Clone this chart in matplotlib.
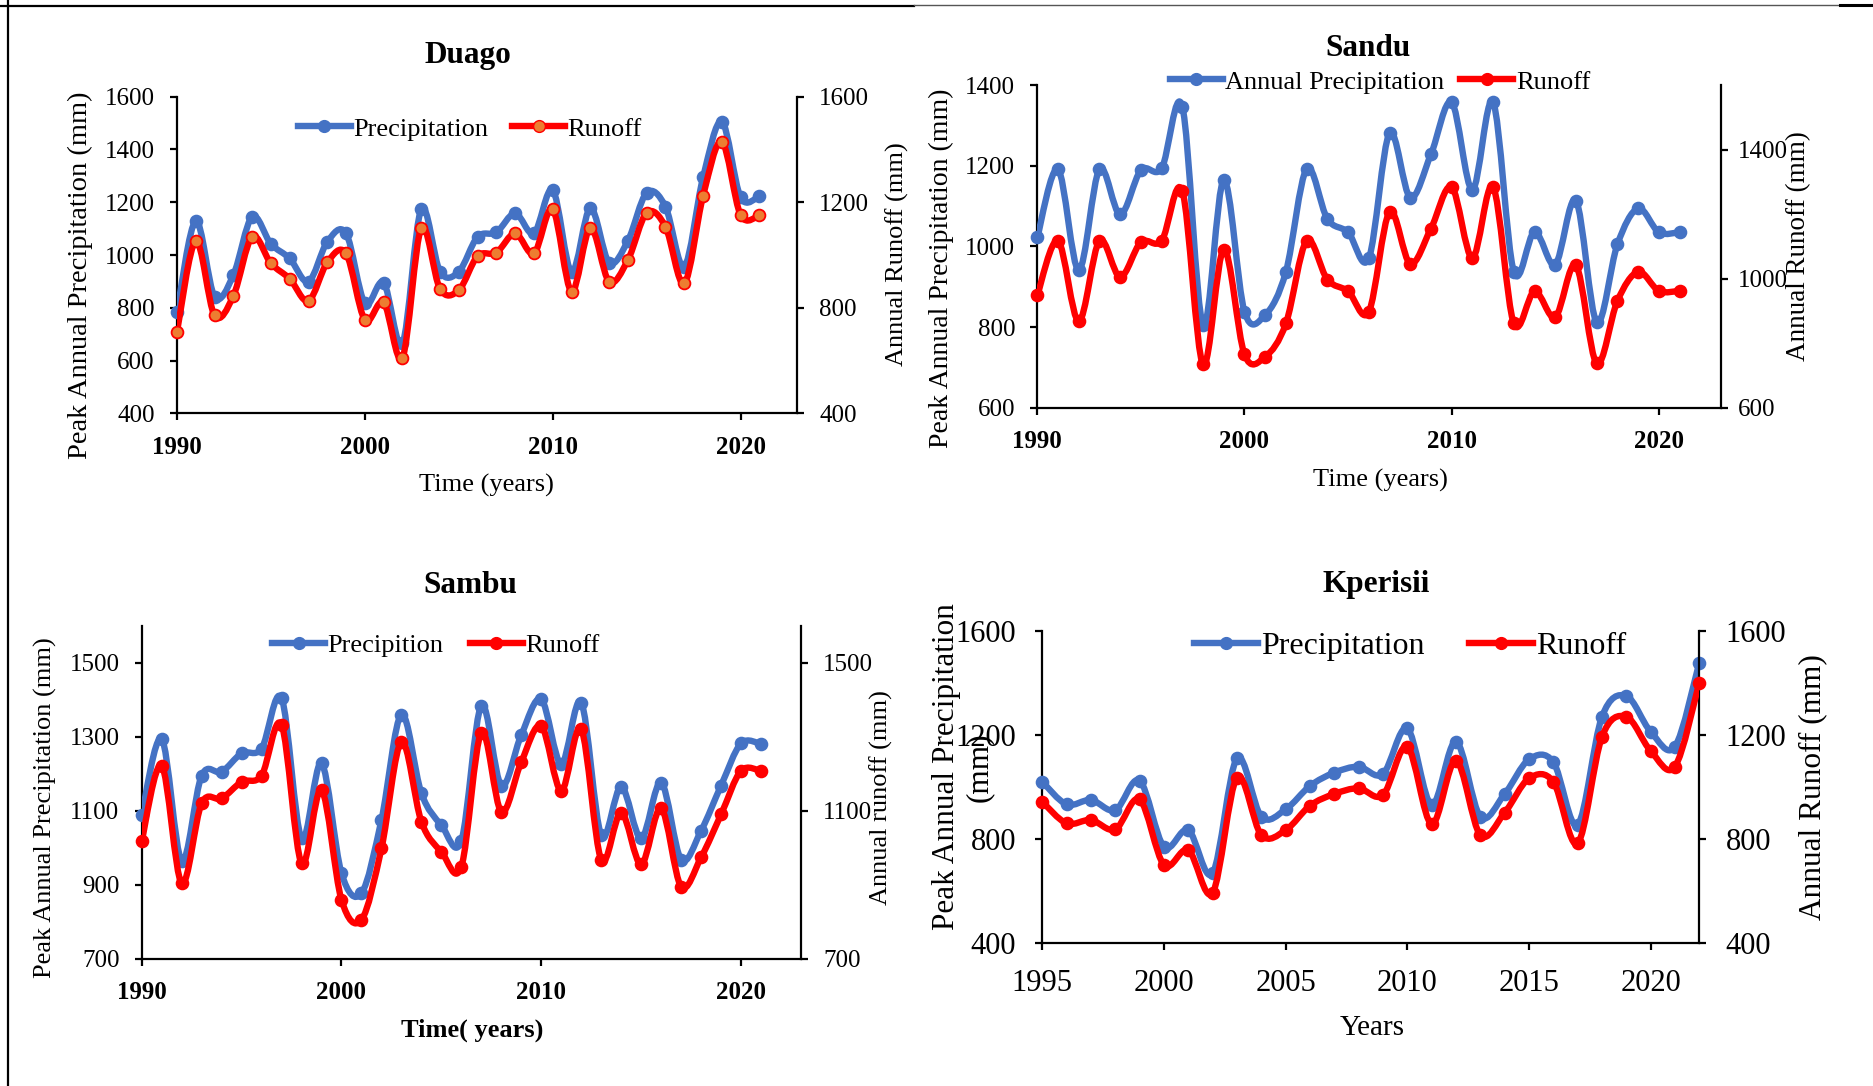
import numpy as np
import matplotlib
matplotlib.use("Agg")
import matplotlib.pyplot as plt
from matplotlib.path import Path
from matplotlib.patches import PathPatch
from matplotlib.lines import Line2D

plt.rcParams['font.family'] = ['Liberation Serif', 'DejaVu Serif']

W, H = 1874, 1086
BLUE = '#4472C4'
RED = '#FF0000'
ORANGE = '#ED7D31'

# ---------------- data ----------------
duago_years = list(range(1990, 2022))
duago_precip = [785, 1129, 842, 924, 1145, 1042, 987, 899, 1050, 1082,
                817, 895, 665, 1173, 937, 937, 1069, 1086, 1158, 1082,
                1246, 935, 1177, 971, 1054, 1236, 1183, 956, 1294, 1505,
                1218, 1224]
duago_runoff = [709, 1053, 771, 845, 1069, 968, 910, 826, 972, 1006,
                754, 820, 611, 1101, 871, 867, 996, 1009, 1082, 1006,
                1173, 861, 1103, 899, 981, 1160, 1107, 892, 1224, 1429,
                1151, 1151]

sandu_years = list(range(1990, 2022))
sandu_precip = [1022, 1191, 941, 1191, 1079, 1189, 1193, 1346, 805, 1164,
                838, 830, 937, 1192, 1068, 1035, 970, 1280, 1121, 1228,
                1357, 1140, 1357, 937, 1036, 955, 1113, 812, 1005, 1094,
                1035, 1035]
sandu_runoff = [948, 1117, 868, 1117, 1005, 1113, 1117, 1271, 734, 1090,
                765, 758, 861, 1117, 997, 961, 897, 1206, 1046, 1155,
                1284, 1064, 1284, 861, 961, 881, 1041, 737, 931, 1021,
                962, 962]

sambu_years = list(range(1990, 2022))
sambu_precip = [1088, 1294, 965, 1195, 1205, 1255, 1268, 1404, 1025, 1228,
                931, 877, 1075, 1360, 1147, 1061, 1019, 1384, 1168, 1305,
                1401, 1226, 1392, 1034, 1165, 1025, 1176, 968, 1046, 1168,
                1282, 1280]
sambu_runoff = [1018, 1222, 904, 1120, 1133, 1178, 1195, 1332, 958, 1156,
                859, 805, 998, 1286, 1070, 989, 949, 1311, 1097, 1232,
                1329, 1154, 1320, 968, 1095, 955, 1106, 895, 974, 1090,
                1208, 1207]

kper_years = list(range(1995, 2023))
kper_precip = [1019, 932, 949, 910, 1023, 769, 833, 667, 1109, 885,
               913, 1003, 1054, 1077, 1049, 1224, 930, 1173, 885, 972,
               1105, 1095, 853, 1269, 1349, 1212, 1154, 1477]
kper_runoff = [942, 859, 872, 836, 951, 699, 756, 592, 1035, 814,
               833, 927, 972, 994, 968, 1154, 856, 1100, 814, 900,
               1032, 1019, 782, 1192, 1269, 1138, 1077, 1400]

fig = plt.figure(figsize=(W / 100, H / 100), dpi=100)


def rect(x0, y0, x1, y1):
    return [x0 / W, 1 - y1 / H, (x1 - x0) / W, (y1 - y0) / H]


def fx(x):
    return x / W


def fy(y):
    return 1 - y / H


def smooth_line(ax, xs, ys, color, lw, z):
    """Draw a smoothed (cubic Bezier) curve through the data points."""
    x = np.asarray(xs, float)
    y = np.asarray(ys, float)
    n = len(x)
    verts = [(x[0], y[0])]
    codes = [Path.MOVETO]
    for i in range(n - 1):
        i0 = max(i - 1, 0)
        i3 = min(i + 2, n - 1)
        c1 = (x[i] + (x[i + 1] - x[i0]) / 6, y[i] + (y[i + 1] - y[i0]) / 6)
        c2 = (x[i + 1] - (x[i3] - x[i]) / 6, y[i + 1] - (y[i3] - y[i]) / 6)
        verts += [c1, c2, (x[i + 1], y[i + 1])]
        codes += [Path.CURVE4] * 3
    patch = PathPatch(Path(verts, codes), facecolor='none', edgecolor=color,
                      lw=lw, capstyle='round', joinstyle='round', zorder=z)
    ax.add_patch(patch)


def series(ax, xs, ys, color, face, edge, lw=4.6, ms=8.5, z=3):
    smooth_line(ax, xs, ys, color, lw, z)
    ax.plot(xs, ys, linestyle='none', marker='o', ms=ms, mfc=face, mec=edge,
            mew=1.3, zorder=z + 0.1, clip_on=False)


def style_axes(ax, ax2, tick_fs, xbold, pad):
    for a in (ax, ax2):
        a.set_facecolor('none')
        for s in ('top',):
            a.spines[s].set_visible(False)
        for s in ('left', 'right', 'bottom'):
            a.spines[s].set_linewidth(1.6)
            a.spines[s].set_color('black')
    ax.spines['right'].set_visible(False)
    ax2.spines['left'].set_visible(False)
    ax2.spines['bottom'].set_visible(False)
    ax.tick_params(axis='both', direction='out', length=5, width=1.6,
                   labelsize=tick_fs, pad=pad, color='black')
    ax2.tick_params(axis='y', direction='out', length=5, width=1.6,
                    labelsize=tick_fs, pad=pad, color='black')
    for lab in ax.get_xticklabels():
        lab.set_fontweight('bold' if xbold else 'normal')


def legend(labels, cx, cy, fs, colsp, face2):
    h1 = Line2D([], [], color=BLUE, lw=4.6, marker='o', ms=8.5,
                mfc=BLUE, mec=BLUE)
    h2 = Line2D([], [], color=RED, lw=4.6, marker='o', ms=8.5,
                mfc=face2, mec=RED)
    fig.legend([h1, h2], labels, loc='center', bbox_to_anchor=(fx(cx), fy(cy)),
               ncol=2, frameon=False, fontsize=fs, handlelength=2.0,
               handletextpad=0.1, columnspacing=colsp, borderaxespad=0,
               borderpad=0)


# ---------------- Duago ----------------
ax = fig.add_axes(rect(177, 96.7, 797, 413.3))
ax2 = ax.twinx()
ax.set_xlim(1990, 2023)
ax.set_ylim(400, 1600)
ax2.set_ylim(400, 1600)
ax.set_xticks([1990, 2000, 2010, 2020])
ax.set_yticks(range(400, 1601, 200))
ax2.set_yticks(range(400, 1601, 400))
series(ax, duago_years, duago_precip, BLUE, BLUE, BLUE)
series(ax2, duago_years, duago_runoff, RED, ORANGE, RED)
style_axes(ax, ax2, 18, True, 11)
fig.text(fx(468), fy(63), 'Duago', ha='center', va='baseline',
         fontsize=22.5, fontweight='bold')
fig.text(fx(80), fy(275), 'Peak Annual Precipitation (mm)', rotation=90,
         ha='center', va='center', fontsize=20.5)
fig.text(fx(897), fy(254), 'Annual Runoff (mm)', rotation=90,
         ha='center', va='center', fontsize=19)
fig.text(fx(486), fy(485), 'Time (years)', ha='center', va='center',
         fontsize=19)
legend(['Precipitation', 'Runoff'], 470, 129, 19, 0.9, ORANGE)

# ---------------- Sandu ----------------
ax = fig.add_axes(rect(1037.3, 85, 1721, 407.7))
ax2 = ax.twinx()
ax.set_xlim(1990, 2023)
ax.set_ylim(600, 1400)
ax2.set_ylim(600, 1600)
ax.set_xticks([1990, 2000, 2010, 2020])
ax.set_yticks(range(600, 1401, 200))
ax2.set_yticks([600, 1000, 1400])
series(ax, sandu_years, sandu_precip, BLUE, BLUE, BLUE)
series(ax2, sandu_years, sandu_runoff, RED, RED, RED)
style_axes(ax, ax2, 18, True, 11)
ax2.tick_params(axis='y', pad=7)
fig.text(fx(1368), fy(56), 'Sandu', ha='center', va='baseline',
         fontsize=22.5, fontweight='bold')
fig.text(fx(941), fy(268), 'Peak Annual Precipitation (mm)', rotation=90,
         ha='center', va='center', fontsize=20)
fig.text(fx(1799), fy(246), 'Annual Runoff (mm)', rotation=90,
         ha='center', va='center', fontsize=19.5)
fig.text(fx(1380), fy(480), 'Time (years)', ha='center', va='center',
         fontsize=19)
legend(['Annual Precipitation', 'Runoff'], 1380, 82, 19, 0.6, RED)

# ---------------- Sambu ----------------
ax = fig.add_axes(rect(141.7, 625.7, 801, 958.7))
ax2 = ax.twinx()
ax.set_xlim(1990, 2023)
ax.set_ylim(700, 1600)
ax2.set_ylim(700, 1600)
ax.set_xticks([1990, 2000, 2010, 2020])
ax.set_yticks([700, 900, 1100, 1300, 1500])
ax2.set_yticks([700, 1100, 1500])
series(ax, sambu_years, sambu_precip, BLUE, BLUE, BLUE)
series(ax2, sambu_years, sambu_runoff, RED, RED, RED)
style_axes(ax, ax2, 18, True, 11)
fig.text(fx(470), fy(593), 'Sambu', ha='center', va='baseline',
         fontsize=22.5, fontweight='bold')
fig.text(fx(45), fy(808), 'Peak Annual Precipitation (mm)', rotation=90,
         ha='center', va='center', fontsize=19)
fig.text(fx(881), fy(798), 'Annual runoff (mm)', rotation=90,
         ha='center', va='center', fontsize=19)
fig.text(fx(472), fy(1030), 'Time( years)', ha='center', va='center',
         fontsize=19, fontweight='bold')
legend(['Precipition', 'Runoff'], 436, 645, 19, 1.0, RED)

# ---------------- Kperisii ----------------
ax = fig.add_axes(rect(1042.3, 630.7, 1699.3, 942.7))
ax2 = ax.twinx()
ax.set_xlim(1995, 2022)
ax.set_ylim(400, 1600)
ax2.set_ylim(400, 1600)
ax.set_xticks(range(1995, 2021, 5))
ax.set_yticks([400, 800, 1200, 1600])
ax2.set_yticks([400, 800, 1200, 1600])
series(ax, kper_years, kper_precip, BLUE, BLUE, BLUE)
series(ax2, kper_years, kper_runoff, RED, RED, RED)
style_axes(ax, ax2, 22, False, 14)
fig.text(fx(1376), fy(592), 'Kperisii', ha='center', va='baseline',
         fontsize=22.5, fontweight='bold')
fig.text(fx(963), fy(767), 'Peak Annual Precipitation\n(mm)', rotation=90,
         ha='center', va='center', fontsize=22.5, multialignment='center',
         linespacing=1.15)
fig.text(fx(1813), fy(787), 'Annual Runoff (mm)', rotation=90,
         ha='center', va='center', fontsize=22.5)
fig.text(fx(1372), fy(1028), 'Years', ha='center', va='center', fontsize=21)
legend(['Precipitation', 'Runoff'], 1410, 646, 23, 1.4, RED)

# ---------------- outer frame lines ----------------
for (x0, y0, x1, y1, lw, c) in [(0, 6, 914, 6, 1.6, 'black'),
                                (914, 5, 1840, 5, 1.0, '#555555'),
                                (1840, 5, 1874, 5, 2.2, 'black'),
                                (8, 0, 8, 1086, 1.6, 'black')]:
    fig.add_artist(Line2D([fx(x0), fx(x1)], [fy(y0), fy(y1)],
                          transform=fig.transFigure, color=c, lw=lw))

fig.savefig('out.png', dpi=100, facecolor='white')
